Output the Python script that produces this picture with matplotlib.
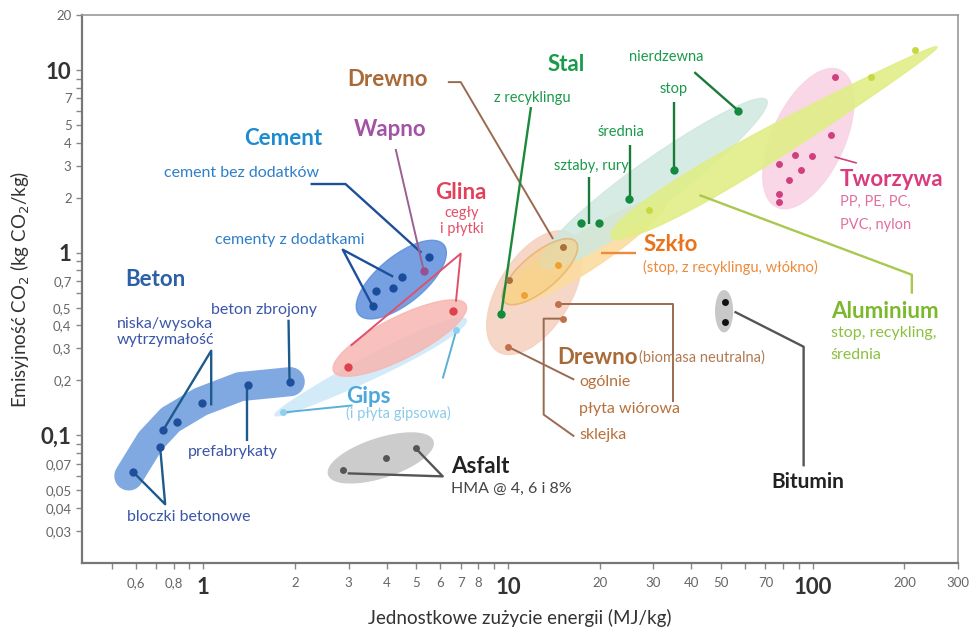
import numpy as np
import matplotlib
matplotlib.use('Agg')
import matplotlib.pyplot as plt
from matplotlib.patches import Polygon

plt.rcParams['font.family'] = ['Lato', 'DejaVu Sans']

# embodied energy (MJ/kg) vs CO2 emission (kg CO2/kg) per material
beton_e = [0.59, 0.72, 0.74, 0.82, 0.99, 1.4, 1.92]
beton_co2 = [0.063, 0.086, 0.107, 0.119, 0.15, 0.19, 0.195]
beton_band_e = [0.57, 0.67, 0.78, 0.98, 1.32, 1.93]
beton_band_co2 = [0.06, 0.093, 0.122, 0.153, 0.185, 0.197]

cement_e = [5.5, 4.5, 4.2, 3.68, 3.6]
cement_co2 = [0.95, 0.74, 0.64, 0.62, 0.51]
wapno_e = [5.3]
wapno_co2 = [0.79]
glina_e = [6.59, 2.98]
glina_co2 = [0.48, 0.238]
gips_e = [6.75, 1.83]
gips_co2 = [0.38, 0.134]
asfalt_e = [2.87, 3.97, 4.98]
asfalt_co2 = [0.065, 0.075, 0.085]
bitumin_e = [51.4, 51.4]
bitumin_co2 = [0.54, 0.42]

drewno_e = [10.05, 15.2]
drewno_co2 = [0.712, 1.08]
biomasa_e = [14.6, 15.2, 10.0]
biomasa_co2 = [0.526, 0.436, 0.306]
szklo_e = [14.6, 11.3]
szklo_co2 = [0.86, 0.59]
stal_e = [9.5, 17.4, 19.9, 25.0, 35.2, 57.0]
stal_co2 = [0.46, 1.46, 1.46, 1.97, 2.84, 6.0]
alu_e = [29.1, 155, 216]
alu_co2 = [1.72, 9.2, 12.9]
tworzywa_e = [77.3, 87.3, 99.3, 91.3, 83.4, 115, 77.3, 77.3, 118]
tworzywa_co2 = [3.06, 3.43, 3.39, 2.84, 2.5, 4.41, 2.1, 1.9, 9.2]

x_ticks = [0.5, 0.6, 0.7, 0.8, 0.9, 1, 2, 3, 4, 5, 6, 7, 8, 9, 10,
           20, 30, 40, 50, 60, 70, 80, 90, 100, 200, 300]
x_labels = ['', '0,6', '', '0,8', '', '1', '2', '3', '4', '5', '6', '7', '8', '',
            '10', '20', '30', '40', '50', '', '70', '', '', '100', '200', '300']
y_ticks = [0.03, 0.04, 0.05, 0.06, 0.07, 0.08, 0.09, 0.1, 0.2, 0.3, 0.4, 0.5,
           0.6, 0.7, 0.8, 0.9, 1, 2, 3, 4, 5, 6, 7, 8, 9, 10, 20]
y_labels = ['0,03', '0,04', '0,05', '', '0,07', '', '', '0,1', '0,2', '0,3',
            '0,4', '0,5', '', '0,7', '', '', '1', '2', '3', '4', '5', '', '7',
            '', '', '10', '20']

fig = plt.figure(figsize=(9.76, 6.32), dpi=100)
ax = fig.add_axes([0.084, 0.109, 0.8976, 0.867])
ax.set_xscale('log')
ax.set_yscale('log')
ax.set_xlim(0.4, 300)
ax.set_ylim(0.02, 20)


def blob(p0, p1, w0, w1=None, **kw):
    # ellipse-like patch whose long axis runs p0 -> p1, widths in points
    if w1 is None:
        w1 = w0
    a, b = ax.transData.transform([p0, p1])
    d = b - a
    L = np.hypot(*d)
    u = d / L
    n = np.array([-u[1], u[0]])
    t = np.linspace(0, np.pi, 80)
    s = (1 - np.cos(t)) / 2
    hw = (w0 + (w1 - w0) * s) / 2 * np.sin(t) * fig.dpi / 72
    top = a + np.outer(s * L, u) + np.outer(hw, n)
    bot = a + np.outer(s * L, u) - np.outer(hw, n)
    pts = np.vstack([top, bot[::-1]])
    ax.add_patch(Polygon(ax.transData.inverted().transform(pts), closed=True, **kw))


def leader(xs, ys, color, lw=1.7):
    ax.plot(xs, ys, color=color, lw=lw, zorder=4, solid_capstyle='butt')


def label(x, y, s, color, size=11.5, bold=False, ha='center'):
    ax.text(x, y, s, color=color, fontsize=size, ha=ha, va='center',
            fontweight='bold' if bold else 'normal', zorder=6)


def dots(xs, ys, color, size=6):
    ax.plot(xs, ys, 'o', color=color, ms=size, mec='none', zorder=5)


# shaded regions
ax.plot(beton_band_e, beton_band_co2, color='#80a9e2', lw=21,
        solid_capstyle='round', solid_joinstyle='round', zorder=1)
blob((1.72, 0.129), (7.3, 0.43), 12, 20, color='#d3ebf8', zorder=1)
blob((2.68, 0.224), (7.28, 0.52), 30, color='#f7b6b2', alpha=0.85, zorder=1)
blob((3.24, 0.46), (6.16, 1.106), 34, color='#5e90dc', alpha=0.85, zorder=1)
blob((2.58, 0.061), (5.67, 0.093), 28, color='#cccccc', zorder=1)
blob((51.2, 0.62), (51.2, 0.37), 12, color='#c8c8c8', zorder=1)
blob((9.27, 0.288), (16.1, 1.27), 52, color='#f5d2c0', alpha=0.9, zorder=1)
blob((9.84, 0.54), (33.1, 1.95), 30, 24, color='#fbdca0', alpha=0.9, zorder=1)
blob((12.8, 0.84), (70.6, 6.86), 36, 30, color='#cfe8df', alpha=0.85, zorder=1)
blob((21.8, 1.22), (256, 13.4), 34, 12, color='#e0ee86', alpha=0.9, zorder=2)
blob((9.7, 0.54), (16.7, 1.15), 26, color='#f7cf82', alpha=0.6,
     ec='#e3a65a', lw=1.2, zorder=2)
blob((76.2, 1.78), (123, 10.0), 52, color='#f9d3e4', alpha=0.9, zorder=1)

# Beton
dots(beton_e, beton_co2, '#1f4f9a')
leader([1.92, 1.905], [0.195, 0.43], '#1e5a8c')
leader([0.739, 1.062, 1.062], [0.107, 0.291, 0.146], '#1e5a8c')
leader([1.395, 1.395], [0.19, 0.0927], '#1e5a8c')
leader([0.589, 0.75, 0.722], [0.063, 0.042, 0.086], '#1e5a8c')
label(0.695, 0.712, 'Beton', '#2b5fa6', 16, True)
label(1.587, 0.488, 'beton zbrojony', '#3a56a8')
label(0.75, 0.37, 'niska/wysoka\nwytrzymałość', '#3a56a8')
label(1.255, 0.0807, 'prefabrykaty', '#3a56a8')
label(0.893, 0.0356, 'bloczki betonowe', '#3a56a8')

# Cement and Wapno
dots(cement_e, cement_co2, '#1b4c9c')
dots(wapno_e, wapno_co2, '#9a4f8e')
leader([2.25, 2.93, 5.2], [2.38, 2.38, 1.0], '#1d4f9a')
leader([4.2, 2.87, 3.6], [0.74, 1.04, 0.51], '#1d4f9a')
leader([4.28, 5.3], [3.7, 0.79], '#9a6090', lw=1.4)
label(1.83, 4.2, 'Cement', '#1e8bd0', 16, True)
label(1.334, 2.74, 'cement bez dodatków', '#2f7fc8')
label(1.92, 1.178, 'cementy z dodatkami', '#2f7fc8')
label(4.12, 4.76, 'Wapno', '#a352a6', 16, True)

# Glina
dots(glina_e, glina_co2, '#e0404a')
leader([6.75, 7.0, 3.05], [0.54, 0.99, 0.31], '#e0506a', lw=1.4)
label(7.0, 2.15, 'Glina', '#e3405c', 16, True)
label(7.06, 1.496, 'cegły\ni płytki', '#e3506a', 10.5)

# Gips
dots(gips_e, gips_co2, '#8fd0f0', 5)
leader([6.75, 6.11], [0.37, 0.205], '#5ab0d8', lw=1.4)
leader([1.86, 3.09], [0.134, 0.146], '#5ab0d8', lw=1.4)
label(2.95, 0.163, 'Gips', '#4ba8dc', 16, True, 'left')
label(2.95, 0.132, '(i płyta gipsowa)', '#8ccbe9', 10.5, ha='left')

# Asfalt and Bitumin
dots(asfalt_e, asfalt_co2, '#555555', 5)
leader([4.98, 6.11, 2.98], [0.085, 0.0597, 0.062], '#555555')
label(6.49, 0.0677, 'Asfalt', '#222222', 16, True, 'left')
label(6.49, 0.0507, 'HMA @ 4, 6 i 8%', '#444444', 11.5, ha='left')
dots(bitumin_e, bitumin_co2, '#111111', 5)
leader([55.4, 93.4, 93.4], [0.476, 0.306, 0.0677], '#555555')
label(96.3, 0.0554, 'Bitumin', '#222222', 15, True)

# Drewno
dots(drewno_e, drewno_co2, '#a8703a', 5)
dots(biomasa_e, biomasa_co2, '#c0704a', 5)
leader([6.35, 7.0, 14.06], [8.6, 8.6, 1.19], '#9a6a50', lw=1.4)
leader([14.6, 34.9, 34.9], [0.526, 0.526, 0.153], '#9a6a50', lw=1.4)
leader([15.2, 13.1, 13.1, 16.5], [0.436, 0.436, 0.130, 0.0988], '#9a6a50', lw=1.4)
leader([10.0, 16.5], [0.306, 0.202], '#9a6a50', lw=1.4)
label(4.03, 8.93, 'Drewno', '#a86a36', 16, True)
label(14.5, 0.267, 'Drewno', '#a86a36', 16, True, 'left')
label(27.0, 0.267, '(biomasa neutralna)', '#b07a50', 10.5, ha='left')
label(17.1, 0.197, 'ogólnie', '#b8703a', 11.5, ha='left')
label(17.1, 0.139, 'płyta wiórowa', '#b8703a', 11.5, ha='left')
label(17.1, 0.1, 'sklejka', '#b8703a', 11.5, ha='left')

# Szkło
dots(szklo_e, szklo_co2, '#f0a030', 5)
leader([20.2, 26.4], [1.0, 1.0], '#ee8a3a')
label(27.8, 1.106, 'Szkło', '#e8731e', 16, True, 'left')
label(27.8, 0.828, '(stop, z recyklingu, włókno)', '#ee8a3a', 10.5, ha='left')

# Stal
dots(stal_e, stal_co2, '#138a3e')
leader([11.9, 9.5], [6.28, 0.46], '#1a8a3a')
leader([18.5, 18.5], [2.6, 1.44], '#1a7a3a')
leader([25.2, 25.2], [3.89, 1.97], '#1a7a3a')
leader([35.2, 35.2], [6.68, 2.84], '#1a7a3a')
leader([40.9, 57.0], [9.75, 6.0], '#1a7a3a')
label(15.5, 10.8, 'Stal', '#1a9a4a', 16, True)
label(12.0, 7.03, 'z recyklingu', '#1a9a4a', 10.5)
label(33.1, 11.8, 'nierdzewna', '#1a9a4a', 10.5)
label(34.9, 7.87, 'stop', '#1a9a4a', 10.5)
label(23.5, 4.58, 'średnia', '#1a9a4a', 10.5)
label(18.75, 2.99, 'sztaby, rury', '#1a9a4a', 10.5)

# Aluminium
dots(alu_e, alu_co2, '#c8d840', 5)
leader([42.5, 211.6, 211.6], [2.07, 0.758, 0.597], '#a8c850')
label(114.6, 0.476, 'Aluminium', '#7cb82c', 16, True, 'left')
label(114.6, 0.365, 'stop, recykling,', '#8cc040', 11.5, ha='left')
label(114.6, 0.274, 'średnia', '#8cc040', 11.5, ha='left')

# Tworzywa
dots(tworzywa_e, tworzywa_co2, '#d0407e', 5)
leader([118, 139.6], [3.35, 3.1], '#d0407e', lw=1.2)
label(122.7, 2.505, 'Tworzywa', '#d83c7e', 16, True, 'left')
label(122.7, 1.9, 'PP, PE, PC,', '#e070a0', 10.5, ha='left')
label(122.7, 1.42, 'PVC, nylon', '#e070a0', 10.5, ha='left')

# axes styling
ax.set_xticks(x_ticks, x_labels)
ax.set_yticks(y_ticks, y_labels)
ax.minorticks_off()
ax.tick_params(axis='both', direction='out', length=4, width=1, color='#888888',
               labelsize=9.5, labelcolor='#666666')
ax.tick_params(axis='x', pad=6)
for t in ax.get_xticklabels() + ax.get_yticklabels():
    if t.get_text() in ('1', '10', '100', '0,1'):
        t.set_fontsize(16)
        t.set_fontweight('bold')
        t.set_color('#333333')
for side in ('left', 'bottom'):
    ax.spines[side].set_color('#777777')
    ax.spines[side].set_linewidth(1.6)
for side in ('top', 'right'):
    ax.spines[side].set_color('#999999')
    ax.spines[side].set_linewidth(1.2)

ax.set_xlabel('Jednostkowe zużycie energii (MJ/kg)', fontsize=13.5,
              color='#333333', labelpad=8)
ax.set_ylabel('Emisyjność CO$_2$ (kg CO$_2$/kg)', fontsize=13.5,
              color='#333333', labelpad=6)

fig.savefig('out.png', dpi=100)
